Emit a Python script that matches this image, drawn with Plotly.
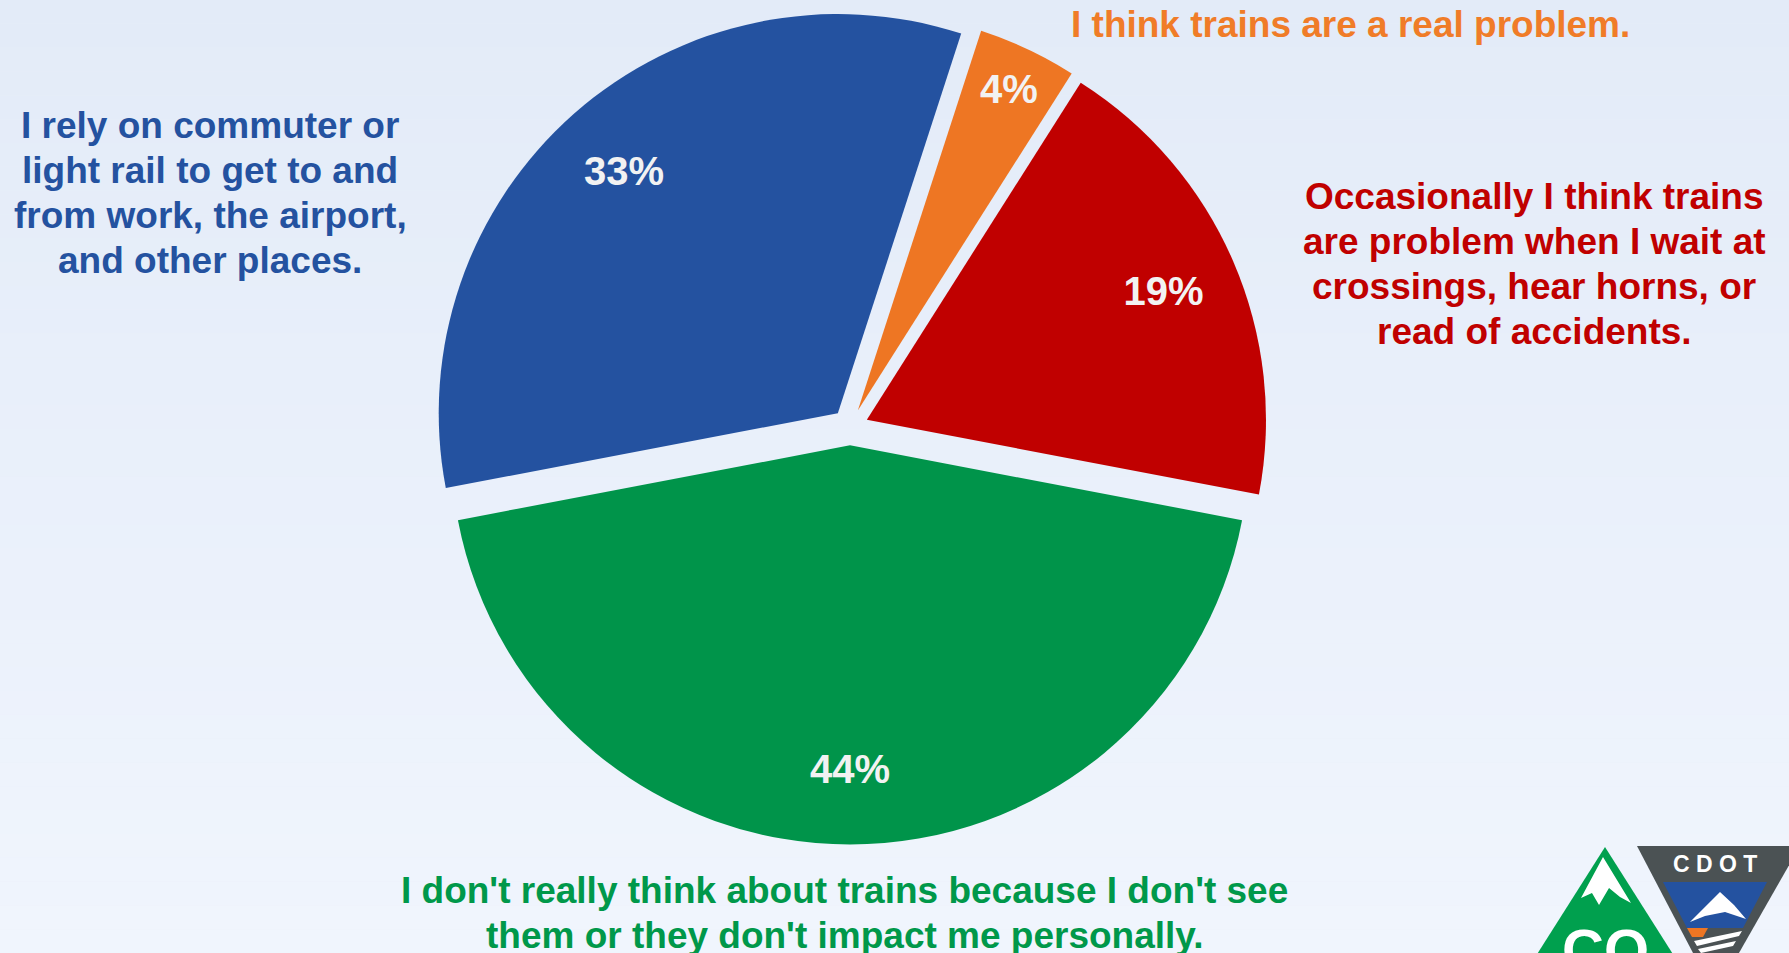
import plotly.graph_objects as go

# ---------------- data ----------------
categories = [
    "I think trains are a real problem.",
    "Occasionally I think trains<br>are problem when I wait at<br>crossings, hear horns, or<br>read of accidents.",
    "I don't really think about trains because I don't see<br>them or they don't impact me personally.",
    "I rely on commuter or<br>light rail to get to and<br>from work, the airport,<br>and other places.",
]
values = [4, 19, 44, 33]
slice_colors = ["#EE7623", "#C00000", "#00944A", "#2452A0"]
label_colors = ["#F07C28", "#C00000", "#00984A", "#2452A0"]

W, H = 1789, 953
FONT = "Arial, 'Liberation Sans', sans-serif"


def px(x, y):
    return x / W, 1 - y / H


def path(points):
    s = ""
    for i, (x, y) in enumerate(points):
        u, v = px(x, y)
        s += ("M" if i == 0 else "L") + f"{u:.5f},{v:.5f} "
    return s + "Z"


fig = go.Figure()

x0, _ = px(432.5, 0)
x1, _ = px(1267.5, 0)
_, y1 = px(0, 9.5)
_, y0 = px(0, 844.5)
dom = dict(x=[x0, x1], y=[y0, y1])
names = [c.replace("<br>", " ") for c in categories]

# filled slices
fig.add_trace(go.Pie(
    labels=names, values=values, sort=False,
    direction="clockwise", rotation=18,
    pull=[0.046] * len(values),
    marker=dict(colors=slice_colors, line=dict(width=0)),
    textinfo="none",
    domain=dom,
    hoverinfo="label+percent",
    showlegend=False,
))
# transparent ring carrying the percentage labels near the outer edge
fig.add_trace(go.Pie(
    labels=names, values=values, sort=False,
    direction="clockwise", rotation=18,
    pull=[0.046] * len(values),
    hole=0.62,
    marker=dict(colors=["rgba(0,0,0,0)"] * len(values), line=dict(width=0)),
    textinfo="percent",
    textposition="inside",
    insidetextorientation="horizontal",
    textfont=dict(family=FONT, size=40, color="#F2F2F2", weight="bold"),
    domain=dom,
    hoverinfo="skip",
    showlegend=False,
))

# ---------------- background gradient ----------------
shapes = []
top = (227, 235, 248)
bot = (240, 245, 253)
N = 40
for i in range(N):
    t = i / (N - 1)
    c = tuple(round(top[k] + (bot[k] - top[k]) * t) for k in range(3))
    shapes.append(dict(type="rect", xref="paper", yref="paper", layer="below",
                       x0=0, x1=1, y0=1 - (i + 1) / N, y1=1 - i / N,
                       fillcolor=f"rgb{c}", line=dict(width=0)))

# ---------------- logo ----------------
def logo_shape(points, color):
    shapes.append(dict(type="path", xref="paper", yref="paper", layer="above",
                       path=path(points), fillcolor=color, line=dict(width=0)))

logo_shape([(1605, 847), (1702, 1000), (1508, 1000)], "#00A04E")
logo_shape([(1603, 857), (1631, 903), (1620, 897), (1609, 888), (1599, 905),
            (1592, 893), (1581, 898)], "#FFFFFF")
logo_shape([(1637, 846), (1800, 846), (1715, 995)], "#4B5254")
logo_shape([(1663, 882), (1767, 882), (1743, 928), (1687, 928)], "#2452A0")
logo_shape([(1690, 922), (1712, 900), (1720, 892), (1734, 905), (1746, 919),
            (1725, 912), (1705, 916)], "#FFFFFF")
logo_shape([(1687, 928), (1708, 928), (1703, 937), (1692, 937)], "#EE7623")
logo_shape([(1694, 941), (1742, 931), (1739, 936), (1697, 946)], "#FFFFFF")
logo_shape([(1698, 949), (1736, 941), (1733, 946), (1701, 953)], "#FFFFFF")

# ---------------- annotations ----------------
label_pos = [(1350, 25), (1534, 264), (844, 913), (210, 193)]
LINE_H = 45
annotations = []
for text, color, (lx, ly) in zip(categories, label_colors, label_pos):
    lines = text.split("<br>")
    n = len(lines)
    for i, line in enumerate(lines):
        u, v = px(lx, ly + (i - (n - 1) / 2) * LINE_H)
        annotations.append(dict(text=line, x=u, y=v, xref="paper", yref="paper",
                                xanchor="center", yanchor="middle", showarrow=False,
                                font=dict(family=FONT, size=37, color=color, weight="bold")))

u, v = px(1605, 915)
annotations.append(dict(text="CO", x=u, y=v, xref="paper", yref="paper",
                        xanchor="center", yanchor="top", showarrow=False,
                        font=dict(family=FONT, size=58, color="#FFFFFF", weight="bold")))
u, v = px(1715, 864)
annotations.append(dict(text="C D O T", x=u, y=v, xref="paper", yref="paper",
                        xanchor="center", yanchor="middle", showarrow=False,
                        font=dict(family=FONT, size=23, color="#FFFFFF", weight="bold")))

fig.update_layout(
    width=W, height=H,
    margin=dict(l=0, r=0, t=0, b=0),
    paper_bgcolor="#E9EFF9",
    plot_bgcolor="rgba(0,0,0,0)",
    shapes=shapes,
    annotations=annotations,
    showlegend=False,
)

fig.write_html("out.html",
               config={"displayModeBar": False},
               post_script="document.body.style.margin='0';document.body.style.overflow='hidden';")
